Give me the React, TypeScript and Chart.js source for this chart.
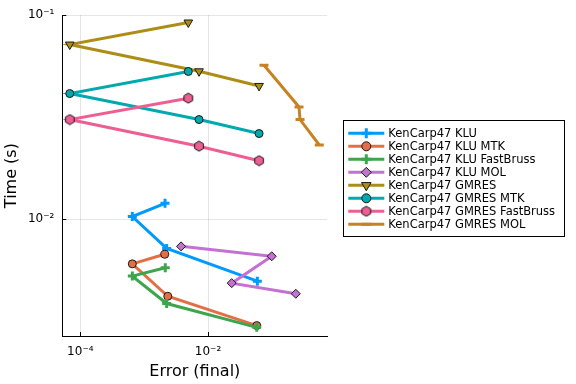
import React, { useEffect, useRef } from "react";
import { Chart, registerables } from "chart.js";
import { drawPoint } from "chart.js/helpers";

Chart.register(...registerables);

// ---- data ----
const seriesNames = [
  "KenCarp47 KLU",
  "KenCarp47 KLU MTK",
  "KenCarp47 KLU FastBruss",
  "KenCarp47 KLU MOL",
  "KenCarp47 GMRES",
  "KenCarp47 GMRES MTK",
  "KenCarp47 GMRES FastBruss",
  "KenCarp47 GMRES MOL",
];
const seriesColors = [
  "#009AFA",
  "#E36F47",
  "#3EA44E",
  "#C371D2",
  "#AC8D18",
  "#00A9AD",
  "#ED5E93",
  "#C68225",
];

const kluErr = [2.12e-3, 6.52e-4, 2.25e-3, 0.0592];
const kluTime = [0.01197, 0.01031, 7.19e-3, 4.97e-3];
const kluMtkErr = [2.1e-3, 6.52e-4, 2.34e-3, 0.058];
const kluMtkTime = [6.73e-3, 6.04e-3, 4.19e-3, 3.01e-3];
const kluFbErr = [2.14e-3, 6.52e-4, 2.25e-3, 0.058];
const kluFbTime = [5.78e-3, 5.26e-3, 3.86e-3, 2.95e-3];
const kluMolErr = [3.78e-3, 0.0994, 0.0235, 0.237];
const kluMolTime = [7.36e-3, 6.58e-3, 4.86e-3, 4.31e-3];
const gmresErr = [4.91e-3, 6.83e-5, 7.23e-3, 0.063];
const gmresTime = [0.0921, 0.0718, 0.0531, 0.045];
const gmresMtkErr = [4.91e-3, 6.83e-5, 7.23e-3, 0.063];
const gmresMtkTime = [0.053, 0.0413, 0.0308, 0.0263];
const gmresFbErr = [4.91e-3, 6.83e-5, 7.23e-3, 0.063];
const gmresFbTime = [0.0392, 0.0308, 0.0228, 0.01936];
const gmresMolErr = [0.0753, 0.266, 0.276, 0.553];
const gmresMolTime = [0.0568, 0.0355, 0.0308, 0.0231];

const seriesErr = [kluErr, kluMtkErr, kluFbErr, kluMolErr, gmresErr, gmresMtkErr, gmresFbErr, gmresMolErr];
const seriesTime = [kluTime, kluMtkTime, kluFbTime, kluMolTime, gmresTime, gmresMtkTime, gmresFbTime, gmresMolTime];
const seriesMarkers = ["cross", "circle", "cross", "rectRot", "dtriangle", "circle", "hexagon", "line"];

const xTicks = [1e-4, 1e-2];
const yTicks = [1e-2, 1e-1];
const xMin = 5.22e-5;
const xMax = 0.738;
const yMin = 2.676e-3;
const yMax = 0.1;

const FONT = "'DejaVu Sans', 'Noto Sans', sans-serif";
const STROKE = "#1a1a1a";

const SUP: Record<string, string> = { "-": "\u207B", "0": "\u2070", "1": "\u00B9", "2": "\u00B2", "3": "\u00B3", "4": "\u2074", "5": "\u2075", "6": "\u2076", "7": "\u2077", "8": "\u2078", "9": "\u2079" };
function powLabel(v: number): string {
  const e = Math.round(Math.log10(v));
  return "10" + String(e).split("").map((c) => SUP[c] || c).join("");
}

function makeHexagon(color: string): HTMLCanvasElement {
  const c = document.createElement("canvas");
  c.width = 12;
  c.height = 12;
  const g = c.getContext("2d")!;
  g.beginPath();
  for (let k = 0; k < 6; k++) {
    const a = -Math.PI / 2 + (k * Math.PI) / 3;
    const px = 6 + 5 * Math.cos(a);
    const py = 6 + 5 * Math.sin(a);
    if (k === 0) g.moveTo(px, py);
    else g.lineTo(px, py);
  }
  g.closePath();
  g.fillStyle = color;
  g.fill();
  g.strokeStyle = STROKE;
  g.lineWidth = 1;
  g.stroke();
  return c;
}

function markerProps(kind: string, color: string) {
  switch (kind) {
    case "cross":
      return { pointStyle: "cross", pointRotation: 0, pointRadius: 4.5, pointBorderWidth: 3, pointBorderColor: color, pointBackgroundColor: color };
    case "circle":
      return { pointStyle: "circle", pointRotation: 0, pointRadius: 4, pointBorderWidth: 1, pointBorderColor: STROKE, pointBackgroundColor: color };
    case "rectRot":
      return { pointStyle: "rectRot", pointRotation: 0, pointRadius: 4.5, pointBorderWidth: 1, pointBorderColor: STROKE, pointBackgroundColor: color };
    case "dtriangle":
      return { pointStyle: "triangle", pointRotation: 180, pointRadius: 5, pointBorderWidth: 1, pointBorderColor: STROKE, pointBackgroundColor: color };
    case "hexagon":
      return { pointStyle: makeHexagon(color), pointRotation: 0, pointRadius: 5, pointBorderWidth: 1, pointBorderColor: STROKE, pointBackgroundColor: color };
    case "line":
    default:
      return { pointStyle: "line", pointRotation: 0, pointRadius: 4.5, pointBorderWidth: 3, pointBorderColor: color, pointBackgroundColor: color };
  }
}

const innerTicksPlugin = {
  id: "innerTicks",
  afterDraw(chart: any) {
    const { ctx, chartArea } = chart;
    const xs = chart.scales.x;
    const ys = chart.scales.y;
    ctx.save();
    ctx.strokeStyle = "#000";
    ctx.lineWidth = 1;
    ctx.beginPath();
    xTicks.forEach((v) => {
      const px = Math.round(xs.getPixelForValue(v)) + 0.5;
      ctx.moveTo(px, chartArea.bottom);
      ctx.lineTo(px, chartArea.bottom - 4);
    });
    yTicks.forEach((v) => {
      const py = Math.round(ys.getPixelForValue(v)) + 0.5;
      ctx.moveTo(chartArea.left, py);
      ctx.lineTo(chartArea.left + 4, py);
    });
    ctx.stroke();
    ctx.restore();
  },
};

const legendPlugin = {
  id: "boxLegend",
  afterDraw(chart: any) {
    const ctx = chart.ctx;
    const bx = 343.5, by = 120.5, bw = 221, bh = 116;
    ctx.save();
    ctx.fillStyle = "#fff";
    ctx.fillRect(bx, by, bw, bh);
    ctx.strokeStyle = "#000";
    ctx.lineWidth = 1;
    ctx.strokeRect(bx, by, bw, bh);
    chart.data.datasets.forEach((ds: any, i: number) => {
      const y = 133.3 + 13 * i;
      ctx.strokeStyle = ds.borderColor;
      ctx.lineWidth = 3;
      ctx.beginPath();
      ctx.moveTo(348.3, y);
      ctx.lineTo(384.3, y);
      ctx.stroke();
      ctx.fillStyle = ds.pointBackgroundColor;
      ctx.strokeStyle = ds.pointBorderColor;
      ctx.lineWidth = ds.pointBorderWidth;
      drawPoint(ctx, { pointStyle: ds.pointStyle, rotation: ds.pointRotation, radius: ds.pointRadius + 0.5, borderWidth: ds.pointBorderWidth } as any, 366.3, y);
      ctx.fillStyle = "#000";
      ctx.font = `11.5px ${FONT}`;
      ctx.textAlign = "left";
      ctx.textBaseline = "middle";
      ctx.fillText(ds.label, 388.3, y + 0.5);
    });
    ctx.restore();
  },
};

export default function App() {
  const canvasRef = useRef<HTMLCanvasElement | null>(null);

  useEffect(() => {
    if (!canvasRef.current) return;
    const datasets = seriesNames.map((name, i) => ({
      label: name,
      data: seriesErr[i].map((e, k) => ({ x: e, y: seriesTime[i][k] })),
      showLine: true,
      borderColor: seriesColors[i],
      backgroundColor: seriesColors[i],
      borderWidth: 3,
      order: seriesNames.length - i,
      ...markerProps(seriesMarkers[i], seriesColors[i]),
    }));

    const chart = new Chart(canvasRef.current, {
      type: "scatter",
      data: { datasets: datasets as any },
      options: {
        animation: false,
        responsive: false,
        devicePixelRatio: 1,
        layout: { padding: { left: 0, top: 12.7, right: 248.7, bottom: 0 } },
        plugins: { legend: { display: false }, tooltip: { enabled: false } },
        scales: {
          x: {
            type: "logarithmic",
            position: "bottom",
            min: xMin,
            max: xMax,
            afterBuildTicks: (s: any) => {
              s.ticks = xTicks.map((v) => ({ value: v }));
            },
            afterFit: (s: any) => {
              s.height = 48;
            },
            ticks: {
              callback: (v: any) => powLabel(Number(v)),
              font: { family: FONT, size: 12 },
              color: "#000",
              padding: 9,
              maxRotation: 0,
              autoSkip: false,
            },
            grid: { color: "rgba(0,0,0,0.1)", drawTicks: false, lineWidth: 1 },
            border: { color: "#000", width: 1 },
            title: {
              display: true,
              text: "Error (final)",
              font: { family: FONT, size: 16 },
              color: "#000",
              padding: { top: 0, bottom: 2.7 },
            },
          },
          y: {
            type: "logarithmic",
            position: "left",
            min: yMin,
            max: yMax,
            afterBuildTicks: (s: any) => {
              s.ticks = yTicks.map((v) => ({ value: v }));
            },
            afterFit: (s: any) => {
              s.width = 62.3;
            },
            ticks: {
              callback: (v: any) => powLabel(Number(v)),
              font: { family: FONT, size: 12 },
              color: "#000",
              padding: 8,
              autoSkip: false,
            },
            grid: { color: "rgba(0,0,0,0.1)", drawTicks: false, lineWidth: 1 },
            border: { color: "#000", width: 1 },
            title: {
              display: true,
              text: "Time (s)",
              font: { family: FONT, size: 16 },
              color: "#000",
              padding: { top: 2, bottom: 0 },
            },
          },
        },
      } as any,
      plugins: [innerTicksPlugin, legendPlugin],
    });
    return () => chart.destroy();
  }, []);

  return (
    <div style={{ position: "absolute", left: 0, top: 0, width: 576, height: 384, background: "#fff" }}>
      <canvas ref={canvasRef} width={576} height={384} />
    </div>
  );
}
